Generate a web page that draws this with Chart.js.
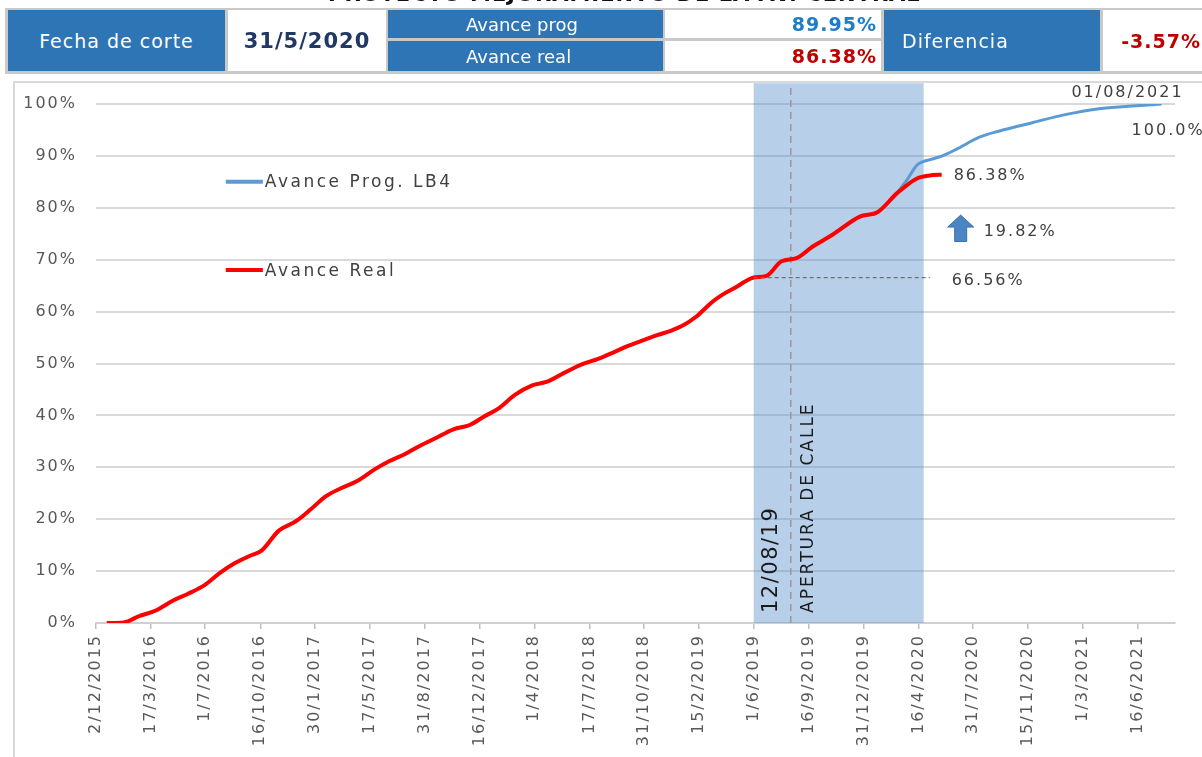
<!DOCTYPE html>
<html>
<head>
<meta charset="utf-8">
<script src="https://cdn.jsdelivr.net/npm/chart.js@4.4.1/dist/chart.umd.min.js"></script>
<style>
  html, body { margin: 0; padding: 0; background: #fff; width: 1202px; height: 757px; overflow: hidden; }
  #frame { position: absolute; left: 13px; top: 81px; width: 1200px; height: 690px; border: 2px solid #d9d9d9; box-sizing: border-box; }
  #wrap { position: absolute; left: 0; top: 0; width: 1202px; height: 757px; }
  .hdr { position: absolute; left: 5px; top: 8px; width: 1200px; height: 66px; background: #c9c9c9; }
  .cell { position: absolute; box-sizing: border-box; font-family: "DejaVu Sans", sans-serif; display: flex; align-items: center; letter-spacing: 1px; }
  .blue { background: #2E75B6; color: #fff; }
  .white { background: #fff; }
  .title { position: absolute; left: 328px; top: -18px; font: bold 21px "DejaVu Sans", sans-serif; color: #111; letter-spacing: 1px; white-space: nowrap; }
</style>
</head>
<body>
<div id="frame"></div>
<div id="wrap"><canvas id="c" width="1202" height="757"></canvas></div>
<div class="hdr"></div>
<div class="title">PROYECTO MEJORAMIENTO DE LA AV. CENTRAL</div>
<div class="cell blue"  style="left:8px;top:10px;width:217px;height:61px;justify-content:center;font-size:19px;">Fecha de corte</div>
<div class="cell white" style="left:228px;top:10px;width:158px;height:61px;justify-content:center;font-size:21px;font-weight:bold;color:#1F3864;">31/5/2020</div>
<div class="cell blue"  style="left:388px;top:10px;width:275px;height:28px;padding-left:78px;font-size:18px;letter-spacing:0;">Avance prog</div>
<div class="cell blue"  style="left:388px;top:41px;width:275px;height:30px;padding-left:78px;font-size:18px;letter-spacing:0;">Avance real</div>
<div class="cell white" style="left:665px;top:10px;width:216px;height:28px;justify-content:flex-end;padding-right:4px;font-size:19px;font-weight:bold;color:#1E7CC8;">89.95%</div>
<div class="cell white" style="left:665px;top:41px;width:216px;height:30px;justify-content:flex-end;padding-right:4px;font-size:19px;font-weight:bold;color:#C00000;">86.38%</div>
<div class="cell blue"  style="left:884px;top:10px;width:216px;height:61px;padding-left:18px;font-size:19px;">Diferencia</div>
<div class="cell white" style="left:1103px;top:10px;width:102px;height:61px;justify-content:flex-end;padding-right:4px;font-size:19px;font-weight:bold;color:#C00000;">-3.57%</div>

<script>
// ---------- DATA ----------
const startDate = '2/12/2015';          // day 0 of the x axis
const tickLabels = ['2/12/2015','17/3/2016','1/7/2016','16/10/2016','30/1/2017','17/5/2017','31/8/2017','16/12/2017','1/4/2018','17/7/2018','31/10/2018','15/2/2019','1/6/2019','16/9/2019','31/12/2019','16/4/2020','31/7/2020','15/11/2020','1/3/2021','16/6/2021'];
const axisEndDate = '27/8/2021';

// Avance Real (days since start, %)
const realDays   = [21,54,83,116,149,178,211,240,269,298,322,355,388,417,446,479,508,541,570,599,632,661,694,727,752,781,814,847,876,909,942,975,1004,1033,1066,1091,1116,1141,1165,1197,1222,1244,1262,1277,1302,1331,1360,1391,1430,1483,1518,1554,1566,1595,1624,1642];
const realValues = [0,0.1,1.3,2.4,4.3,5.6,7.3,9.6,11.5,12.9,14.0,17.8,19.6,21.9,24.4,26.1,27.4,29.6,31.2,32.5,34.3,35.7,37.3,38.2,39.7,41.3,44.0,45.8,46.5,48.2,49.8,50.9,52.1,53.4,54.6,55.5,56.3,57.4,59.0,61.9,63.6,64.8,65.9,66.56,66.9,69.7,70.3,72.5,74.8,78.3,79.2,82.7,83.7,85.7,86.3,86.38];

// Avance Prog. LB4 (days since start, %)
const progDays   = [21,54,83,116,149,178,211,240,269,298,322,355,388,417,446,479,508,541,570,599,632,661,694,727,752,781,814,847,876,909,942,975,1004,1033,1066,1091,1116,1141,1165,1197,1222,1244,1262,1277,1302,1331,1360,1391,1430,1483,1518,1554,1574,1595,1624,1642,1671,1715,1754,1818,1884,1948,2012,2069];
const progValues = [0,0.1,1.3,2.4,4.3,5.6,7.3,9.6,11.5,12.9,14.0,17.8,19.6,21.9,24.4,26.1,27.4,29.6,31.2,32.5,34.3,35.7,37.3,38.2,39.7,41.3,44.0,45.8,46.5,48.2,49.8,50.9,52.1,53.4,54.6,55.5,56.3,57.4,59.0,61.9,63.6,64.8,65.9,66.56,66.9,69.7,70.3,72.5,74.8,78.3,79.2,82.7,85.3,88.3,89.4,89.95,91.3,93.6,94.8,96.4,98.0,99.1,99.6,100];

const seriesNames = ['Avance Real', 'Avance Prog. LB4'];
const yTicks = [0,10,20,30,40,50,60,70,80,90,100];

// annotations
const shadeFrom = '1/6/2019';
const shadeTo = '26/4/2020';
const openingDate = '12/8/2019';
const openingLabel = '12/08/19';
const openingText = 'APERTURA DE CALLE';
const baseValue = 66.56;
const realLast = 86.38;
const gainValue = 19.82;
const endLabel = '01/08/2021';
const endValue = '100.0%';

// ---------- HELPERS ----------
function toUTC(s){ const [d,m,y] = s.split('/').map(Number); return Date.UTC(y, m-1, d); }
const t0 = toUTC(startDate);
function dayOf(s){ return Math.round((toUTC(s) - t0) / 864e5); }
const tickDays = tickLabels.map(dayOf);

const FONT = '"DejaVu Sans", sans-serif';

const spacing = {
  id: 'spacing',
  beforeDraw(chart){ chart.ctx.letterSpacing = '2px'; },
  afterDraw(chart){ chart.ctx.letterSpacing = '0px'; }
};

const annot = {
  id: 'annot',
  beforeDatasetsDraw(chart){
    const {ctx, scales:{x,y}} = chart;
    ctx.save();
    const xa = x.getPixelForValue(dayOf(shadeFrom)), xb = x.getPixelForValue(dayOf(shadeTo));
    const yTop = y.getPixelForValue(104), yBot = y.getPixelForValue(0);
    ctx.fillStyle = 'rgba(84,141,201,0.42)';
    ctx.fillRect(xa, yTop, xb - xa, yBot - yTop);
    const xo = x.getPixelForValue(dayOf(openingDate));
    ctx.strokeStyle = '#9a9a9a'; ctx.lineWidth = 1.5; ctx.setLineDash([7,5]);
    ctx.beginPath(); ctx.moveTo(xo, yBot); ctx.lineTo(xo, yTop); ctx.stroke();
    ctx.restore();
  },
  afterDatasetsDraw(chart){
    const {ctx, scales:{x,y}} = chart;
    ctx.save();
    ctx.letterSpacing = '2px';
    const xa = x.getPixelForValue(dayOf(shadeFrom));
    const xLast = x.getPixelForValue(realDays[realDays.length-1]);
    const yBase = y.getPixelForValue(baseValue);
    ctx.strokeStyle = '#6f6f6f'; ctx.lineWidth = 1.3; ctx.setLineDash([4,3]);
    ctx.beginPath(); ctx.moveTo(xa, yBase); ctx.lineTo(xLast - 12, yBase); ctx.stroke();
    ctx.setLineDash([]);

    ctx.fillStyle = '#404040';
    ctx.font = '16px ' + FONT;
    ctx.textBaseline = 'middle'; ctx.textAlign = 'left';
    ctx.fillText(realLast.toFixed(2) + '%', xLast + 12, y.getPixelForValue(realLast) + 1);
    ctx.fillText(baseValue.toFixed(2) + '%', xLast + 10, yBase + 3);
    ctx.fillText(gainValue.toFixed(2) + '%', xLast + 42, y.getPixelForValue(75.3));
    const xEnd = x.getPixelForValue(progDays[progDays.length-1]);
    ctx.textAlign = 'right';
    ctx.fillText(endLabel, xEnd + 22, y.getPixelForValue(100) - 11);
    ctx.textAlign = 'left';
    ctx.fillText(endValue, xEnd - 30, y.getPixelForValue(100) + 27);

    // arrow
    const ax = xLast + 19;
    const aTop = y.getPixelForValue(78.6), aBot = y.getPixelForValue(73.5);
    const headH = 12, headW = 13, shaftW = 6;
    ctx.fillStyle = '#4A86C6'; ctx.strokeStyle = '#3A6EA8'; ctx.lineWidth = 1;
    ctx.beginPath();
    ctx.moveTo(ax, aTop);
    ctx.lineTo(ax + headW, aTop + headH);
    ctx.lineTo(ax + shaftW, aTop + headH);
    ctx.lineTo(ax + shaftW, aBot);
    ctx.lineTo(ax - shaftW, aBot);
    ctx.lineTo(ax - shaftW, aTop + headH);
    ctx.lineTo(ax - headW, aTop + headH);
    ctx.closePath(); ctx.fill(); ctx.stroke();

    // vertical texts
    const y0 = y.getPixelForValue(0);
    ctx.fillStyle = '#1a1a1a';
    ctx.save();
    ctx.translate(xa + 18, y0 - 10); ctx.rotate(-Math.PI/2);
    ctx.letterSpacing = '1.5px';
    ctx.font = '21px ' + FONT; ctx.textAlign = 'left'; ctx.textBaseline = 'middle';
    ctx.fillText(openingLabel, 0, 0);
    ctx.restore();
    ctx.save();
    ctx.translate(xa + 55, y0 - 10); ctx.rotate(-Math.PI/2);
    ctx.letterSpacing = '2px';
    ctx.font = '17px ' + FONT; ctx.textAlign = 'left'; ctx.textBaseline = 'middle';
    ctx.fillText(openingText, 0, 0);
    ctx.restore();

    // legend
    const ds = chart.data.datasets;
    const order = [1, 0];
    const legY = [85, 68];
    const lx0 = x.getPixelForValue(252), lx1 = x.getPixelForValue(324);
    order.forEach((di, k) => {
      const ly = y.getPixelForValue(legY[k]);
      ctx.strokeStyle = ds[di].borderColor; ctx.lineWidth = 4;
      ctx.beginPath(); ctx.moveTo(lx0, ly); ctx.lineTo(lx1, ly); ctx.stroke();
      ctx.fillStyle = '#404040'; ctx.font = '17px ' + FONT;
      ctx.letterSpacing = '2.5px';
      ctx.textAlign = 'left'; ctx.textBaseline = 'middle';
      ctx.fillText(ds[di].label, lx1 + 2, ly + 1);
    });
    ctx.restore();
  }
};

new Chart(document.getElementById('c'), {
  type: 'line',
  data: {
    datasets: [
      { label: seriesNames[0], data: realDays.map((d,i)=>({x:d, y:realValues[i]})),
        borderColor: '#FF0000', borderWidth: 4, pointRadius: 0, cubicInterpolationMode: 'monotone', order: 0 },
      { label: seriesNames[1], data: progDays.map((d,i)=>({x:d, y:progValues[i]})),
        borderColor: '#5B9BD5', borderWidth: 3, pointRadius: 0, cubicInterpolationMode: 'monotone', order: 1 }
    ]
  },
  options: {
    responsive: false, animation: false, events: [],
    layout: { padding: { top: 104, right: 27, left: 0, bottom: 0 } },
    plugins: { legend: { display: false }, tooltip: { enabled: false } },
    scales: {
      x: {
        type: 'linear', min: 0, max: dayOf(axisEndDate),
        afterBuildTicks: s => { s.ticks = tickDays.map(v => ({ value: v })); },
        afterFit: s => { s.height = 134; },
        ticks: { autoSkip: false, minRotation: 90, maxRotation: 90, padding: 5, color: '#595959',
                 font: { family: FONT, size: 16 },
                 callback: (v) => { const i = tickDays.indexOf(v); return i >= 0 ? tickLabels[i] : ''; } },
        grid: { drawOnChartArea: false, drawTicks: true, tickLength: 6, color: '#bfbfbf', lineWidth: 1.5 },
        border: { display: true, color: '#d0d0d0', width: 2 }
      },
      y: {
        min: 0, max: 100,
        afterBuildTicks: s => { s.ticks = yTicks.map(v => ({ value: v })); },
        afterFit: s => { s.width = 96; },
        ticks: { padding: 19, color: '#595959', font: { family: FONT, size: 16 }, callback: v => v + '%' },
        grid: { color: '#d9d9d9', lineWidth: 2, drawTicks: false },
        border: { display: false }
      }
    }
  },
  plugins: [spacing, annot]
});
</script>
</body>
</html>
